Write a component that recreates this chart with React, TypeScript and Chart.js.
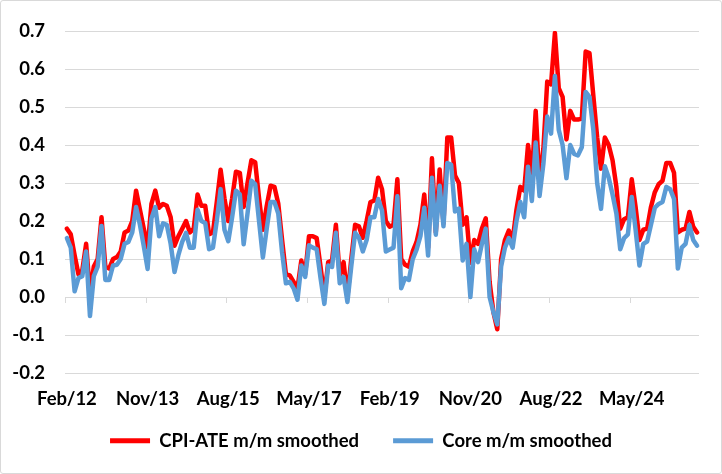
import React, { useEffect, useRef } from "react";
import { Chart, registerables } from "chart.js";

Chart.register(...registerables);

// ---- data ----
const MONTH_NAMES = ["Jan", "Feb", "Mar", "Apr", "May", "Jun", "Jul", "Aug", "Sep", "Oct", "Nov", "Dec"];
const START_YEAR = 2012;
const START_MONTH = 1; // Feb
const N_MONTHS = 165; // Feb/12 .. Oct/25

const CATEGORIES: string[] = Array.from({ length: N_MONTHS }, (_, i) => {
  const m = START_MONTH + i;
  const yr = (START_YEAR + Math.floor(m / 12)) % 100;
  return `${MONTH_NAMES[m % 12]}/${String(yr).padStart(2, "0")}`;
});

const TICK_LABELS = ["Feb/12", "Nov/13", "Aug/15", "May/17", "Feb/19", "Nov/20", "Aug/22", "May/24"];

const CPI_ATE = [
  0.18, 0.165, 0.11, 0.06, 0.07, 0.14, 0.01, 0.08, 0.1, 0.21,
  0.08, 0.075, 0.1, 0.105, 0.12, 0.17, 0.175, 0.2, 0.28, 0.23,
  0.18, 0.13, 0.245, 0.28, 0.235, 0.245, 0.24, 0.21, 0.135, 0.16,
  0.18, 0.2, 0.17, 0.18, 0.27, 0.24, 0.24, 0.165, 0.17, 0.25,
  0.335, 0.26, 0.2, 0.26, 0.33, 0.327, 0.237, 0.3, 0.36, 0.355,
  0.26, 0.177, 0.24, 0.293, 0.29, 0.246, 0.15, 0.06, 0.057, 0.04,
  0.023, 0.096, 0.06, 0.16, 0.16, 0.155, 0.08, 0.0, 0.092, 0.096,
  0.19, 0.057, 0.092, 0.0, 0.1, 0.19, 0.186, 0.156, 0.2, 0.25,
  0.254, 0.314, 0.284, 0.2, 0.185, 0.19, 0.31, 0.1, 0.085, 0.08,
  0.12, 0.145, 0.19, 0.27, 0.13, 0.365, 0.17, 0.336, 0.194, 0.42,
  0.42, 0.32, 0.3, 0.19, 0.21, 0.09, 0.15, 0.14, 0.18, 0.207,
  0.04, -0.04, -0.085, 0.1, 0.15, 0.175, 0.15, 0.23, 0.29, 0.28,
  0.4, 0.317, 0.49, 0.3, 0.39, 0.567, 0.56, 0.695, 0.55, 0.527,
  0.415, 0.49, 0.467, 0.467, 0.47, 0.646, 0.642, 0.53, 0.42, 0.338,
  0.42, 0.4, 0.36, 0.29, 0.18, 0.205, 0.21, 0.31, 0.237, 0.15,
  0.177, 0.18, 0.237, 0.276, 0.297, 0.306, 0.353, 0.353, 0.327, 0.17,
  0.177, 0.18, 0.224, 0.185, 0.17,
];

const CORE = [
  0.155, 0.13, 0.015, 0.05, 0.055, 0.12, -0.05, 0.055, 0.08, 0.187,
  0.045, 0.045, 0.083, 0.085, 0.1, 0.14, 0.145, 0.17, 0.237, 0.19,
  0.134, 0.074, 0.207, 0.237, 0.16, 0.194, 0.19, 0.14, 0.066, 0.11,
  0.145, 0.169, 0.13, 0.13, 0.23, 0.2, 0.195, 0.126, 0.13, 0.2,
  0.284, 0.177, 0.147, 0.21, 0.28, 0.27, 0.139, 0.22, 0.306, 0.297,
  0.2, 0.104, 0.18, 0.25, 0.25, 0.22, 0.117, 0.036, 0.04, 0.023,
  -0.007, 0.083, 0.053, 0.136, 0.13, 0.126, 0.05, -0.018, 0.083, 0.079,
  0.169, 0.036, 0.053, -0.013, 0.08, 0.169, 0.156, 0.12, 0.15, 0.21,
  0.21, 0.258, 0.228, 0.12, 0.125, 0.13, 0.265, 0.023, 0.05, 0.045,
  0.1, 0.125, 0.16, 0.235, 0.109, 0.314, 0.164, 0.293, 0.186, 0.353,
  0.348, 0.225, 0.233, 0.096, 0.14, 0.0, 0.126, 0.092, 0.14, 0.18,
  0.0, -0.04, -0.072, 0.08, 0.13, 0.155, 0.13, 0.2, 0.25, 0.21,
  0.343, 0.253, 0.407, 0.266, 0.35, 0.475, 0.43, 0.582, 0.44, 0.4,
  0.313, 0.4, 0.377, 0.373, 0.394, 0.54, 0.527, 0.44, 0.3, 0.232,
  0.344, 0.314, 0.27, 0.22, 0.126, 0.155, 0.165, 0.263, 0.177, 0.083,
  0.14, 0.146, 0.19, 0.235, 0.245, 0.25, 0.29, 0.284, 0.258, 0.075,
  0.13, 0.14, 0.19, 0.15, 0.135,
];

const SERIES_NAMES = ["CPI-ATE m/m smoothed", "Core m/m smoothed"];
const Y_MIN = -0.2;
const Y_MAX = 0.7;
const Y_STEP = 0.1;
const TICK_EVERY = 21;

// ---- styles ----
const RED = "#FF0000";
const BLUE = "#5B9BD5";
const GRID = "#D9D9D9";
const FONT_FAMILY = "Lato, 'Open Sans', sans-serif";
const FONT_SIZE = 18.5;
const LEGEND_PAD = 34;

const zeroTicksPlugin = {
  id: "zeroTicks",
  beforeDatasetsDraw(chart: any) {
    const x = chart.scales.x;
    const y = chart.scales.y;
    const step = x.getPixelForValue(1) - x.getPixelForValue(0);
    const y0 = y.getPixelForValue(0);
    const ctx = chart.ctx;
    ctx.save();
    ctx.strokeStyle = GRID;
    ctx.lineWidth = 1;
    ctx.beginPath();
    for (let i = 0; i < CATEGORIES.length; i += TICK_EVERY) {
      const px = Math.round(x.getPixelForValue(i) - step / 2) + 0.5;
      ctx.moveTo(px, y0);
      ctx.lineTo(px, y0 + 6);
    }
    ctx.stroke();
    ctx.restore();
  },
};

export default function App() {
  const ref = useRef<HTMLCanvasElement | null>(null);

  useEffect(() => {
    if (!ref.current) return;
    const font = { family: FONT_FAMILY, size: FONT_SIZE, weight: "bold" as const };
    const chart = new Chart(ref.current, {
      type: "line",
      data: {
        labels: CATEGORIES,
        datasets: [
          {
            label: SERIES_NAMES[0],
            data: CPI_ATE,
            borderColor: RED,
            backgroundColor: RED,
            borderWidth: 4.5,
            borderJoinStyle: "round",
            borderCapStyle: "round",
            pointRadius: 0,
            tension: 0,
            order: 1,
          },
          {
            label: SERIES_NAMES[1],
            data: CORE,
            borderColor: BLUE,
            backgroundColor: BLUE,
            borderWidth: 4.5,
            borderJoinStyle: "round",
            borderCapStyle: "round",
            pointRadius: 0,
            tension: 0,
            order: 0,
          },
        ],
      },
      options: {
        animation: false,
        responsive: false,
        layout: { padding: { top: 22, right: 0, bottom: 14, left: 0 } },
        plugins: {
          tooltip: { enabled: false },
          legend: {
            position: "bottom",
            labels: {
              boxWidth: 40,
              boxHeight: 5,
              padding: LEGEND_PAD,
              color: "#000",
              font,
              sort: (a: any, b: any) => a.datasetIndex - b.datasetIndex,
              generateLabels: (c: any) =>
                Chart.defaults.plugins.legend.labels
                  .generateLabels(c)
                  .map((it: any) => ({ ...it, lineWidth: 0 })),
            },
          },
        },
        scales: {
          x: {
            type: "category",
            offset: true,
            grid: { display: false, drawTicks: false },
            border: { display: false },
            ticks: {
              autoSkip: false,
              maxRotation: 0,
              minRotation: 0,
              mirror: true,
              padding: -37,
              color: "#000",
              font,
              callback: (_v: any, i: number) =>
                TICK_LABELS.includes(CATEGORIES[i]) ? CATEGORIES[i] : "",
            },
            afterFit: (s: any) => {
              s.height = 58.5 - LEGEND_PAD;
            },
          },
          y: {
            min: Y_MIN,
            max: Y_MAX,
            grid: { color: GRID, lineWidth: 1, drawTicks: false },
            border: { display: false },
            ticks: {
              stepSize: Y_STEP,
              padding: 20,
              color: "#000",
              font,
              callback: (v: any) => {
                const n = Number(v);
                return Math.abs(n) < 1e-9 ? "0.0" : n.toFixed(1);
              },
            },
            afterFit: (s: any) => {
              s.width = 65;
            },
          },
          yRightSpace: {
            position: "right",
            min: Y_MIN,
            max: Y_MAX,
            grid: { display: false, drawTicks: false },
            border: { display: false },
            ticks: { display: false },
            afterFit: (s: any) => {
              s.width = 23;
            },
          },
        },
      },
      plugins: [zeroTicksPlugin],
    });
    return () => chart.destroy();
  }, []);

  return (
    <div
      style={{
        position: "fixed",
        left: 0,
        top: 0,
        width: 722,
        height: 474,
        background: "#fff",
      }}
    >
      <canvas ref={ref} width={722} height={474} style={{ display: "block" }} />
      <div
        style={{
          position: "absolute",
          left: 0,
          top: 0,
          width: 722,
          height: 474,
          boxSizing: "border-box",
          border: "1px solid #D9D9D9",
          borderRadius: 3,
          pointerEvents: "none",
        }}
      />
    </div>
  );
}
